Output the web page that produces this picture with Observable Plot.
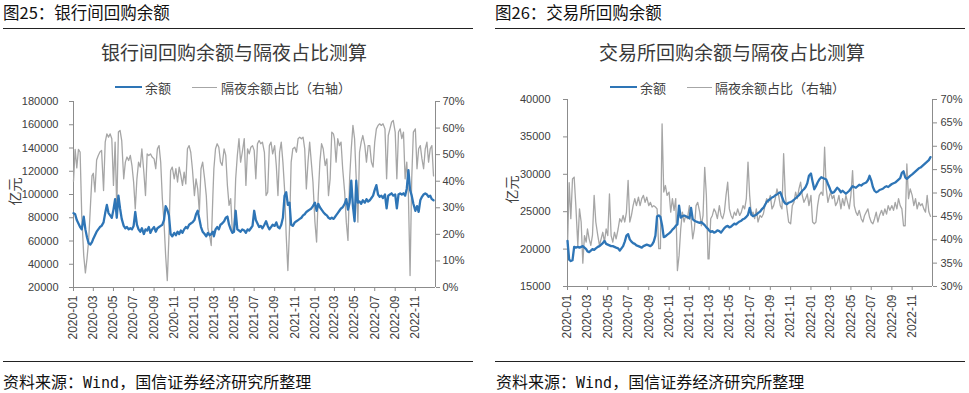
<!DOCTYPE html>
<html><head><meta charset="utf-8">
<script src="https://cdn.jsdelivr.net/npm/d3@7"></script>
<script src="https://cdn.jsdelivr.net/npm/@observablehq/plot@0.6"></script>
<style>
html,body{margin:0;padding:0;background:#fff;}
#page{position:relative;width:969px;height:393px;overflow:hidden;font-family:"Noto Sans CJK SC",sans-serif;}
.abs{position:absolute;white-space:nowrap;}
.hdr{font-size:16.5px;color:#111;line-height:24px;}
.rule{position:absolute;height:0;border-top:1.5px solid #222;}
.ttl{font-size:19px;color:#3a3a3a;line-height:28px;text-align:center;width:500px;}
.leg{font-size:13px;color:#404040;line-height:19px;}
.sw{position:absolute;height:0;}
.unit{font-size:14px;color:#404040;line-height:21px;width:28px;text-align:center;transform:rotate(-90deg);}
.src{font-size:16px;color:#111;line-height:24px;}
.mono{font-family:"DejaVu Sans Mono",monospace;font-size:15px;}
.plot{position:absolute;top:92px;}
</style></head>
<body>
<div id="page">
  <div class="abs hdr" style="left:3px;top:0px;">图25：银行间回购余额</div>
  <div class="rule" style="left:3px;top:28px;width:470px;"></div>
  <div class="abs ttl" style="left:-16px;top:37.5px;">银行间回购余额与隔夜占比测算</div>
  <div class="sw" style="left:115px;top:86px;width:27px;border-top:2.5px solid #2E75B6;"></div>
  <div class="abs leg" style="left:145px;top:78px;">余额</div>
  <div class="sw" style="left:192px;top:86.5px;width:25px;border-top:1.5px solid #A6A6A6;"></div>
  <div class="abs leg" style="left:221px;top:78px;">隔夜余额占比（右轴）</div>
  <div class="abs unit" style="left:0px;top:181px;">亿元</div>
  <div id="leftPlot" class="plot" style="left:0px;"></div>
  <div class="rule" style="left:3px;top:361px;width:470px;"></div>
  <div class="abs src" style="left:3px;top:369px;">资料来源：<span class="mono">Wind</span>，国信证券经济研究所整理</div>

  <div class="abs hdr" style="left:495px;top:0px;">图26：交易所回购余额</div>
  <div class="rule" style="left:495px;top:28px;width:470px;"></div>
  <div class="abs ttl" style="left:482px;top:37.5px;">交易所回购余额与隔夜占比测算</div>
  <div class="sw" style="left:610px;top:86px;width:27px;border-top:2.5px solid #2E75B6;"></div>
  <div class="abs leg" style="left:640px;top:78px;">余额</div>
  <div class="sw" style="left:687px;top:86.5px;width:25px;border-top:1.5px solid #A6A6A6;"></div>
  <div class="abs leg" style="left:715px;top:78px;">隔夜余额占比（右轴）</div>
  <div class="abs unit" style="left:497px;top:179px;">亿元</div>
  <div id="rightPlot" class="plot" style="left:485px;"></div>
  <div class="rule" style="left:495px;top:361px;width:470px;"></div>
  <div class="abs src" style="left:496px;top:369px;">资料来源：<span class="mono">Wind</span>，国信证券经济研究所整理</div>
</div>
<script>
// ---- categories ----
const months = ["2020-01","2020-02","2020-03","2020-04","2020-05","2020-06","2020-07","2020-08","2020-09","2020-10","2020-11","2020-12",
  "2021-01","2021-02","2021-03","2021-04","2021-05","2021-06","2021-07","2021-08","2021-09","2021-10","2021-11","2021-12",
  "2022-01","2022-02","2022-03","2022-04","2022-05","2022-06","2022-07","2022-08","2022-09","2022-10","2022-11","2022-12"];
const sampleDays = ["01","06","11","16","21","26"];
const xTickLabels = ["2020-01","2020-03","2020-05","2020-07","2020-09","2020-11","2021-01","2021-03","2021-05","2021-07","2021-09","2021-11","2022-01","2022-03","2022-05","2022-07","2022-09","2022-11"];

// ---- axis ticks ----
const bankYTicks = [20000,40000,60000,80000,100000,120000,140000,160000,180000];
const bankPctTicks = [0,10,20,30,40,50,60,70];
const exchYTicks = [15000,20000,25000,30000,35000,40000];
const exchPctTicks = [30,35,40,45,50,55,60,65,70];

// ---- 银行间回购余额（亿元） ----
const bankBalance = [84000,83000,78000,75000,72000,70000,
81000,70000,63000,58000,57000,59000,
62000,65000,68000,70000,72000,73000,
76000,84000,91000,84000,82000,80000,
87000,96000,80000,99000,88000,79000,
73000,71000,72000,70000,71000,70000,
73000,85000,74000,70000,68000,71000,
66000,70000,69000,72000,67000,70000,
72000,68000,71000,72000,73000,74000,
78000,90000,87000,82000,66000,64000,
67000,65000,68000,66000,69000,67000,
70000,72000,71000,74000,75000,76000,
78000,83000,86000,79000,72000,68000,
66000,64000,67000,65000,66000,68000,
64000,70000,72000,70000,74000,75000,
77000,80000,81000,74000,70000,67000,
68000,86000,70000,69000,68000,70000,
69000,67000,70000,69000,71000,73000,
86000,78000,75000,72000,73000,71000,
74000,77000,73000,70000,72000,74000,
73000,76000,72000,71000,74000,80000,
99000,102000,91000,93000,74000,73000,
76000,77000,78000,79000,80000,82000,
83000,85000,86000,87000,88000,90000,
93000,86000,92000,89000,87000,85000,
83000,82000,80000,79000,80000,79000,
80000,82000,84000,86000,88000,89000,
92000,96000,87000,93000,112000,90000,
77000,112000,93000,94000,92000,95000,
93000,96000,94000,95000,97000,99000,
104000,108000,100000,98000,99000,97000,
100000,88000,99000,100000,101000,99000,
100000,88000,100000,101000,100000,101000,
99000,105000,121000,104000,99000,92000,
86000,90000,85000,95000,98000,100000,
101000,100000,98000,99000,96000,95000];

// ---- 银行间隔夜余额占比（%，右轴） ----
const bankOvernight = [40,52,45,52,51,27,
12,5.5,11,18,30,42,
43,36,48,49.7,51,51.6,
36.5,54.7,57.8,56.6,57.8,56,
38.4,54.7,29.6,58.5,59.1,55.3,
40.9,47.2,49.1,47.8,49.7,45.9,
39.7,29.6,40.9,47.2,45.3,52.2,
43.4,34.6,50.3,49.7,50.3,49.1,
48.4,44.7,52.2,53.4,47.2,33.4,
24.6,12,2.6,19.6,44,45.3,
40.9,44.7,39.7,45.3,42.2,38.4,
43.4,39,52.2,53.4,50.9,44.7,
34.6,40.9,37.1,28.4,44.7,47.2,
40.9,34.6,22.1,19.6,15.8,34.6,
44.7,52.2,54.1,52.8,47.2,45.9,
52.2,49.7,38.4,30.9,33.4,20.8,
22.1,40.9,49.7,56,47.2,50.9,
56,38.4,52.2,50.3,52.8,53.4,
51.6,40.9,54.1,55.3,54.1,54.7,
50.9,34.6,35.9,53.4,54.7,50.3,
53.4,45.9,34.6,50.9,54.7,47.2,
37.1,19.6,6.4,22.1,47.2,52.2,
52.8,50.9,56,56.6,56,56.6,
52.2,37.1,47.2,54.7,47.2,39.7,
24.6,17.1,34.6,47.2,54.1,52.2,
45.9,48.4,34.6,40.9,58.5,57.8,
56,47.2,56,53.4,54.7,44.7,
35.9,24.6,17.7,40.9,52.2,61,
56,40.9,24.6,50.9,54.7,57.2,
53.4,47.2,53.4,53.4,47.2,45.3,
54.7,59.7,61,61.6,61,61.6,
59.7,40.9,57.2,59.7,62.2,62.9,
58.5,40.9,58.5,59.7,56,58.5,
40.9,47.2,34.6,4.5,40.9,58.5,
59.7,44.7,52.2,53.4,48.4,44.7,
52.2,54.7,47.2,52.2,53.4,42];

// ---- 交易所回购余额（亿元） ----
const exchBalance = [21100,18600,18400,18500,20300,20200,
20300,20200,20300,20400,20200,20000,
19700,19600,19800,20000,19900,20100,
20300,20400,20600,20800,21100,20700,
20600,20500,20400,20400,20300,20200,
20100,19800,20100,20400,21000,21800,
22000,21300,21000,20800,20700,20500,
20400,20300,20200,20400,20500,20600,
20500,20400,20600,21000,21800,24400,
24500,24300,23200,21600,21700,21900,
22100,22300,22600,22800,23100,23300,
25800,24200,24400,24500,24400,24300,
24100,25500,24000,23800,23700,23600,
23500,23600,23400,23200,22900,22700,
22500,22300,22400,22200,22300,22500,
22400,22200,22500,22800,23000,23100,
22900,23000,23200,23400,23300,23500,
23700,23800,24000,24100,24300,24600,
25500,24600,24400,24500,24600,24800,
25000,25300,25500,25900,26300,26500,
26700,26900,27000,27200,27300,27500,
27600,27000,26400,26100,26000,26200,
26300,26400,26600,26800,27000,27200,
27500,27800,28000,28300,28800,29800,
30100,29000,28000,28400,28900,29300,
29600,29500,29400,29300,28700,28200,
27800,27500,27600,27900,28200,28000,
27600,27800,27600,27400,27600,27800,
28100,28400,28300,28200,28400,28600,
28500,28700,28800,28900,29200,29800,
29200,28300,27800,27600,27700,27900,
28000,28100,28300,28400,28300,28500,
28700,28800,28900,29100,29300,29500,
30200,30400,29600,29400,29600,29800,
30000,30200,30400,30600,30800,30900,
31100,31300,31500,31700,31900,32300];

// ---- 交易所隔夜余额占比（%，右轴） ----
const exchOvernight = [38.4,52.2,44.5,53.0,53.4,47.3,
38.8,46.6,43.8,35.0,40.9,39.5,
42.3,40.2,38.8,41.0,49.5,43.8,
40.9,38.8,40.2,41.6,39.5,42.3,
40.9,49.8,40.9,39.5,41.6,40.2,
42.3,44.5,43.8,45.2,43.8,45.9,
52.7,43.8,45.2,47.3,48.8,47.3,
49.1,47.3,48.8,49.5,48.0,49.1,
47.3,48.0,47.0,47.3,47.0,46.6,
38.1,38.1,64.8,50.2,51.6,49.5,
50.2,45.9,48.8,46.3,48.8,33.4,
36.6,42.3,45.9,43.8,45.2,44.5,
47.3,44.5,40.2,42.3,47.3,48.0,
45.9,43.0,45.2,55.5,49.5,35.9,
35.9,44.5,45.2,46.6,45.9,44.5,
47.3,45.2,44.5,45.9,49.5,52.3,
46.6,45.2,44.5,45.9,45.2,46.6,
45.2,45.9,47.3,46.6,48.8,56.6,
49.5,45.2,45.9,44.5,46.6,43.8,
45.2,44.8,45.5,47.3,48.8,48.0,
49.5,46.6,47.3,48.8,50.9,49.5,
47.3,46.6,58.4,49.5,46.6,43.8,
43.4,47.3,48.0,50.2,48.8,50.9,
52.3,49.5,48.0,48.8,49.8,47.3,
49.5,43.8,43.4,43.8,47.3,49.5,
50.2,49.5,59.8,50.9,48.0,49.5,
50.2,48.8,49.5,47.3,48.0,49.5,
46.6,48.8,47.3,49.5,48.0,46.6,
49.5,54.8,47.3,45.9,45.2,46.3,
44.5,43.8,45.2,45.9,46.6,44.8,
43.8,43.4,44.5,45.9,43.8,45.2,
46.3,45.2,46.6,45.5,47.3,46.3,
47.3,46.3,48.0,46.6,48.8,47.3,
46.6,43.0,43.0,56.2,48.8,50.9,
49.5,47.3,48.8,46.6,48.0,47.3,
47.7,46.6,45.9,49.5,46.0,45.0];

const dates = months.flatMap(m => sampleDays.map(d => new Date(`${m}-${d}T00:00:00Z`)));
const xTickDates = xTickLabels.map(s => new Date(`${s}-01T00:00:00Z`));
const xDomain = [new Date("2020-01-01T00:00:00Z"), new Date("2023-01-01T00:00:00Z")];
const fmtMonth = d3.utcFormat("%Y-%m");

function drawChart(el, cfg) {
  const {balance, share, yDomain, yTicks, pctTicks, pctDomain, width, height, margins} = cfg;
  // map right-axis percentage onto the left-axis scale (dual axis)
  const toY = p => yDomain[0] + (p - pctDomain[0]) / (pctDomain[1] - pctDomain[0]) * (yDomain[1] - yDomain[0]);
  const fromY = v => pctDomain[0] + (v - yDomain[0]) / (yDomain[1] - yDomain[0]) * (pctDomain[1] - pctDomain[0]);
  const rows = dates.map((date, i) => ({date, balance: balance[i], shareY: toY(share[i])}));
  const axisGray = "#8c8c8c";
  const textCol = "#404040";
  const chart = Plot.plot({
    width, height,
    marginLeft: margins[0], marginRight: margins[1], marginTop: margins[2], marginBottom: margins[3],
    style: {fontFamily: "'Liberation Sans', Arial, sans-serif", fontSize: "11px", background: "transparent", color: textCol},
    x: {type: "utc", domain: xDomain},
    y: {domain: yDomain},
    marks: [
      Plot.ruleY([yDomain[0]], {stroke: axisGray, strokeWidth: 1}),
      Plot.ruleX([xDomain[0]], {stroke: axisGray, strokeWidth: 1}),
      Plot.ruleX([xDomain[1]], {stroke: axisGray, strokeWidth: 1}),
      Plot.axisY(yTicks, {anchor: "left", tickFormat: d => String(d), tickSize: 4, tickPadding: cfg.leftPad, stroke: axisGray, fill: textCol, label: null, fontSize: 11}),
      Plot.axisY(pctTicks.map(toY), {anchor: "right", tickFormat: v => Math.round(fromY(v)) + "%", tickSize: 4, tickPadding: cfg.rightPad, stroke: axisGray, fill: textCol, label: null, fontSize: 11}),
      Plot.axisX(xTickDates, {anchor: "bottom", tickFormat: d => fmtMonth(d), tickRotate: -90, tickSize: 4, tickPadding: 4, stroke: axisGray, fill: textCol, label: null, fontSize: 12}),
      Plot.line(rows, {x: "date", y: "shareY", stroke: "#A6A6A6", strokeWidth: 1.3}),
      Plot.line(rows, {x: "date", y: "balance", stroke: "#2E75B6", strokeWidth: 2.3})
    ]
  });
  el.appendChild(chart);
}

drawChart(document.getElementById("leftPlot"), {
  balance: bankBalance, share: bankOvernight,
  yDomain: [20000, 180000], yTicks: bankYTicks,
  pctDomain: [0, 70], pctTicks: bankPctTicks,
  width: 480, height: 265, margins: [73, 45, 9, 70], leftPad: 11, rightPad: 3
});
drawChart(document.getElementById("rightPlot"), {
  balance: exchBalance, share: exchOvernight,
  yDomain: [15000, 40000], yTicks: exchYTicks,
  pctDomain: [30, 70], pctTicks: exchPctTicks,
  width: 484, height: 265, margins: [82, 37, 7, 71], leftPad: 13, rightPad: 4
});
</script>
</body></html>
